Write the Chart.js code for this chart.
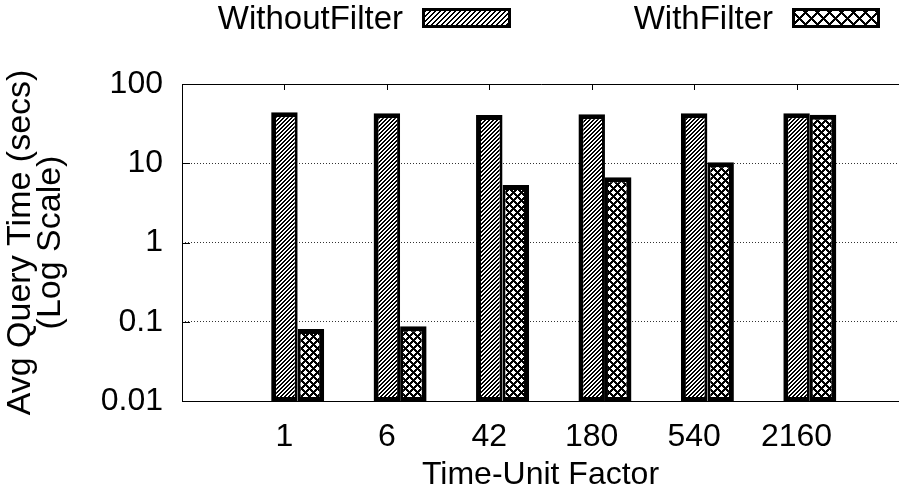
<!DOCTYPE html>
<html>
<head>
<meta charset="utf-8">
<script src="https://cdn.jsdelivr.net/npm/chart.js@4.4.1/dist/chart.umd.min.js"></script>
<style>
  html, body { margin: 0; padding: 0; background: #fff; }
</style>
</head>
<body>
<canvas id="chart" width="899" height="489"></canvas>
<script>
// values
const categories = ['1', '6', '42', '180', '540', '2160'];
const withoutFilter = [44, 42.7, 40.6, 41.4, 42.7, 42.7];
const withFilter = [0.081, 0.088, 5.3, 6.65, 10.3, 41];
const yTicks = [0.01, 0.1, 1, 10, 100];
const yTickLabels = ['0.01', '0.1', '1', '10', '100'];
const seriesNames = ['WithoutFilter', 'WithFilter'];

const FONT = '"Liberation Sans", Arial, Helvetica, sans-serif';
const FSIZE = 32;

// pixel patterns: '/' stripes and a diamond cross-hatch
function makePattern(kind, s, th) {
  const c = document.createElement('canvas');
  c.width = s;
  c.height = s;
  const g = c.getContext('2d');
  g.fillStyle = '#fff';
  g.fillRect(0, 0, s, s);
  g.fillStyle = '#000';
  for (let y = 0; y < s; y++) {
    for (let x = 0; x < s; x++) {
      const a = (x + y) % s < th;
      const b = ((x - y) % s + s) % s < th;
      if (a || (kind === 'cross' && b)) g.fillRect(x, y, 1, 1);
    }
  }
  return g.createPattern(c, 'repeat');
}

const ctx = document.getElementById('chart').getContext('2d');
const hatch = makePattern('hatch', 4, 2);
const cross = makePattern('cross', 8, 3);
const keyHatch = makePattern('hatch', 5, 2);
const keyCross = makePattern('cross', 12, 3);

// empty slot on each side so the axis runs one category past the data
const labels = [''].concat(categories, ['']);
const pad = arr => [null].concat(arr, [null]);

// frame, inward ticks (drawn under the bars)
const framePlugin = {
  id: 'frame',
  beforeDatasetsDraw(chart) {
    const { left, right, top, bottom } = chart.chartArea;
    const x = chart.scales.x, y = chart.scales.y;
    const c = chart.ctx;
    c.save();
    c.strokeStyle = '#000';
    c.lineWidth = 1;
    c.beginPath();
    c.moveTo(left + 0.5, top + 0.5); c.lineTo(right + 5, top + 0.5);
    c.moveTo(left + 0.5, top); c.lineTo(left + 0.5, bottom + 1);
    c.moveTo(left, bottom + 0.5); c.lineTo(right + 5, bottom + 0.5);
    yTicks.forEach(v => {
      const p = Math.round(y.getPixelForValue(v)) + 0.5;
      c.moveTo(left, p); c.lineTo(left + 8, p);
    });
    categories.forEach((cat, i) => {
      const p = Math.round(x.getPixelForValue(i + 1)) + 0.5;
      c.moveTo(p, top); c.lineTo(p, top + 6);
      c.moveTo(p, bottom); c.lineTo(p, bottom - 6);
    });
    c.stroke();
    c.restore();
  }
};

// gnuplot style key: text first, then the sample box
const keyPlugin = {
  id: 'key',
  afterDraw(chart) {
    const c = chart.ctx;
    const keys = [
      { text: seriesNames[0], textRight: 403, box: [422, 8, 89, 20], fill: keyHatch },
      { text: seriesNames[1], textRight: 773, box: [792, 8, 88, 20], fill: keyCross },
    ];
    c.save();
    c.font = '33px ' + FONT;
    c.textAlign = 'right';
    c.textBaseline = 'middle';
    keys.forEach(k => {
      c.fillStyle = '#000';
      c.fillText(k.text, k.textRight, 20);
      const [bx, by, bw, bh] = k.box;
      c.fillStyle = k.fill;
      c.fillRect(bx, by, bw, bh);
      c.strokeStyle = '#000';
      c.lineWidth = 3;
      c.strokeRect(bx + 1.5, by + 1.5, bw - 3, bh - 3);
    });
    c.restore();
  }
};

new Chart(ctx, {
  type: 'bar',
  data: {
    labels: labels,
    datasets: [
      { label: '', data: pad(categories.map(() => null)) },
      {
        label: seriesNames[0],
        data: pad(withoutFilter),
        backgroundColor: hatch,
        borderColor: '#000',
        borderWidth: { top: 5, left: 5, bottom: 4, right: 3 },
        borderSkipped: false,
      },
      {
        label: seriesNames[1],
        data: pad(withFilter),
        backgroundColor: cross,
        borderColor: '#000',
        borderWidth: { top: 5, left: 3, bottom: 4, right: 5 },
        borderSkipped: false,
      },
    ]
  },
  options: {
    responsive: false,
    animation: false,
    layout: { padding: { top: 84, right: 0, bottom: 0, left: 0 } },
    datasets: { bar: { categoryPercentage: 0.776, barPercentage: 1 } },
    plugins: {
      legend: { display: false },
      tooltip: { enabled: false },
    },
    scales: {
      x: {
        type: 'category',
        offset: false,
        grid: { display: false, drawTicks: false },
        border: { display: false },
        ticks: {
          autoSkip: false,
          maxRotation: 0,
          padding: 17,
          color: '#000',
          font: { family: FONT, size: FSIZE },
        },
        title: {
          display: true,
          text: 'Time-Unit Factor',
          color: '#000',
          font: { family: FONT, size: FSIZE, lineHeight: 0.86 },
          padding: { top: 0, bottom: 0 },
        },
        afterFit: s => { s.height = 88; s.paddingLeft = 0; s.paddingRight = 0; },
      },
      y: {
        type: 'logarithmic',
        min: 0.01,
        max: 100,
        afterBuildTicks: s => { s.ticks = yTicks.map(v => ({ value: v, major: true })); },
        grid: {
          drawTicks: false,
          color: c => (c.tick && (c.tick.value === 0.01 || c.tick.value === 100)) ? 'rgba(0,0,0,0)' : '#333',
          lineWidth: 1,
        },
        border: { display: false, dash: [1, 2] },
        ticks: {
          padding: 19,
          color: '#000',
          font: { family: FONT, size: FSIZE },
          callback: (v, i) => yTickLabels[i],
        },
        title: {
          display: true,
          text: ['Avg Query Time (secs)', '(Log Scale)'],
          color: '#000',
          font: { family: FONT, size: 34, lineHeight: 0.88 },
          padding: { top: 6, bottom: 0 },
        },
        afterFit: s => { s.width = 182; s.paddingTop = 0; s.paddingBottom = 0; },
      }
    }
  },
  plugins: [framePlugin, keyPlugin]
});
</script>
</body>
</html>
